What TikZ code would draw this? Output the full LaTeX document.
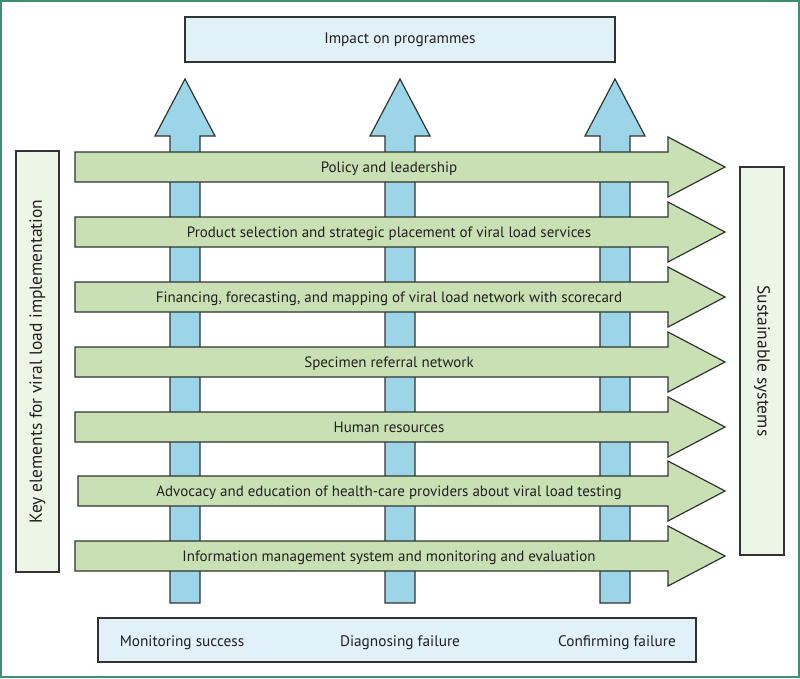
\documentclass[tikz,border=0pt]{standalone}
\usepackage{fontspec}
\setmainfont{PT Sans}
\usetikzlibrary{positioning}
\definecolor{frameteal}{HTML}{3F8F6E}
\definecolor{skyfill}{HTML}{E0F1F7}
\definecolor{upblue}{HTML}{9DD5E8}
\definecolor{leafgreen}{HTML}{C9E0B5}
\definecolor{palegreen}{HTML}{EDF5E6}
\definecolor{edgegrey}{HTML}{2F3432}
\definecolor{inkgrey}{HTML}{231F20}

\begin{document}
\begin{tikzpicture}[x=1pt,y=-1pt,font=\fontsize{15}{17}\selectfont,text=inkgrey,
box/.style={draw=edgegrey,line width=1.2pt,fill=skyfill,inner sep=0pt},
side/.style={draw=edgegrey,line width=1.2pt,fill=palegreen,inner sep=0pt,font=\fontsize{17.5}{20}\selectfont},
uparrow/.style={draw=edgegrey,line width=1.2pt,fill=upblue},
bar/.style={draw=edgegrey,line width=1.2pt,fill=leafgreen}]
\useasboundingbox (0,0) rectangle (800,678);
\draw[frameteal,line width=2pt] (1,1) rectangle (799,677);
% top and bottom boxes
\node[box,minimum width=430pt,minimum height=45pt,font=\fontsize{15.3}{17}\selectfont] (impact) at (400,39.5) {Impact on programmes};
\node[box,minimum width=598pt,minimum height=44pt] (uses) at (397,640) {};
\node[font=\fontsize{15.3}{17}\selectfont,anchor=base] (ms) at (182,646) {Monitoring success};
\node[font=\fontsize{15.3}{17}\selectfont,anchor=base] (df) at (400,646) {Diagnosing failure};
\node[font=\fontsize{15.3}{17}\selectfont,anchor=base] (cf) at (617,646) {Confirming failure};
% side boxes
\node[side,rotate=90,minimum width=421pt,minimum height=43pt] (key) at (37.5,361.5) {Key elements for viral load implementation};
\node[side,rotate=-90,minimum width=388pt,minimum height=44pt] (sust) at (762,361) {Sustainable systems};
% upward arrows
\foreach \cx in {185,400,615}
  \draw[uparrow] ({\cx-15},603) -- ({\cx-15},136) -- ({\cx-30},136) -- (\cx,79)
    -- ({\cx+30},136) -- ({\cx+15},136) -- ({\cx+15},603) -- cycle;
% element arrows
\foreach \cy/\lx/\txt [count=\i] in {167/75/Policy and leadership,
    232/75/Product selection and strategic placement of viral load services,
    297/75/{Financing, forecasting, and mapping of viral load network with scorecard},
    362/75/Specimen referral network,
    427/75/Human resources,
    491/78/Advocacy and education of health-care providers about viral load testing,
    556/75/Information management system and monitoring and evaluation}
{
  \draw[bar] (\lx,{\cy-15}) -- (668,{\cy-15}) -- (668,{\cy-30}) -- (725,\cy)
    -- (668,{\cy+30}) -- (668,{\cy+15}) -- (\lx,{\cy+15}) -- cycle;
  \node[anchor=base] (row\i) at (389,{\cy+5.5}) {\txt};
}
\end{tikzpicture}
\end{document}
